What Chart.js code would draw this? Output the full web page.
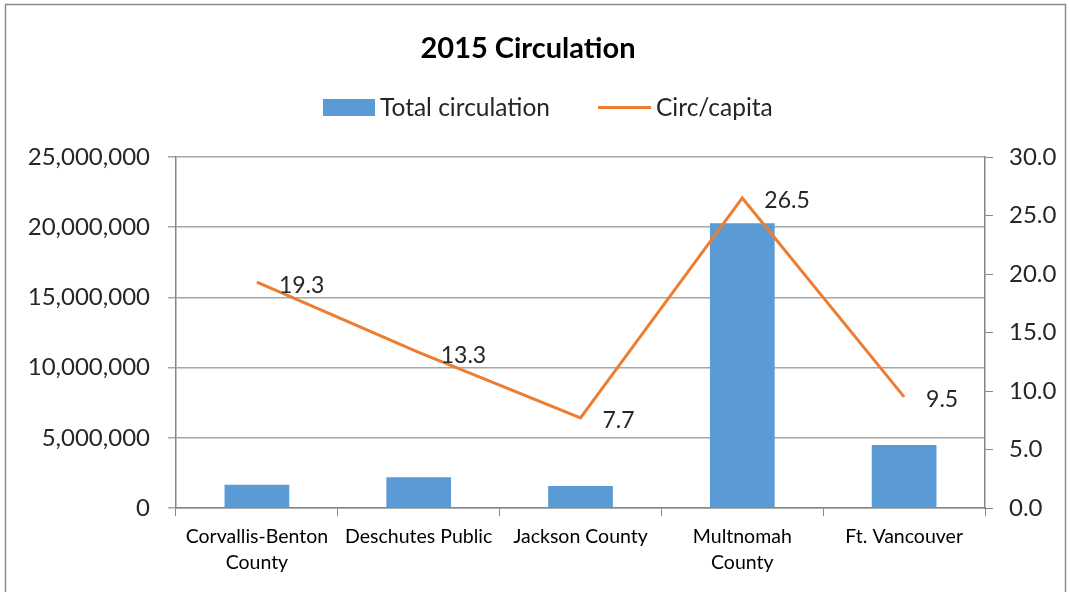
<!DOCTYPE html>
<html><head><meta charset="utf-8">
<script src="https://cdn.jsdelivr.net/npm/chart.js@4.4.1/dist/chart.umd.min.js"></script>
<style>html,body{margin:0;padding:0;background:#fff}#wrap{width:1070px;height:592px;position:relative}</style>
</head><body><div id="wrap"><canvas id="c" width="1070" height="592"></canvas></div>
<script>
const categories = [['Corvallis-Benton','County'], 'Deschutes Public', 'Jackson County', ['Multnomah','County'], 'Ft. Vancouver'];
const totalCirculation = [1660000, 2190000, 1570000, 20280000, 4490000];
const circPerCapita = [19.3, 13.3, 7.7, 26.5, 9.5];
const leftTicks = [0, 5000000, 10000000, 15000000, 20000000, 25000000];
const rightTicks = [0, 5, 10, 15, 20, 25, 30];
const titleText = '2015 Circulation';
const seriesNames = ['Total circulation', 'Circ/capita'];

const FONT = 'Lato, "Open Sans", sans-serif';
const BLUE = '#5B9BD5', ORANGE = '#ED7D31', GRID = '#a6a6a6', AXIS = '#868686', TXT = '#262626';

const decor = {
  id: 'decor',
  beforeDraw(chart) {
    const ctx = chart.ctx;
    ctx.save();
    ctx.fillStyle = '#fff';
    ctx.fillRect(0, 0, chart.width, chart.height);
    ctx.strokeStyle = '#8c8c8c';
    ctx.lineWidth = 1.5;
    ctx.strokeRect(5.5, 4.5, 1060, 620);
    ctx.restore();
  },
  afterDraw(chart) {
    const ctx = chart.ctx;
    ctx.save();
    // title
    ctx.fillStyle = '#000';
    ctx.font = 'bold 29px ' + FONT;
    ctx.textAlign = 'center';
    ctx.textBaseline = 'middle';
    ctx.fillText(titleText, 528, 49);
    // legend
    ctx.font = '24.5px ' + FONT;
    ctx.textAlign = 'left';
    ctx.fillStyle = BLUE;
    ctx.fillRect(323, 99, 52, 17);
    ctx.fillStyle = TXT;
    ctx.fillText(seriesNames[0], 380, 108);
    ctx.strokeStyle = ORANGE;
    ctx.lineWidth = 3;
    ctx.beginPath(); ctx.moveTo(598, 107.5); ctx.lineTo(651, 107.5); ctx.stroke();
    ctx.fillText(seriesNames[1], 656, 108);
    // data labels for line
    const meta = chart.getDatasetMeta(1);
    ctx.font = '23px ' + FONT;
    ctx.fillStyle = TXT;
    meta.data.forEach((pt, i) => {
      ctx.fillText(circPerCapita[i].toFixed(1), pt.x + 22, pt.y + 3);
    });
    ctx.restore();
  }
};

new Chart(document.getElementById('c'), {
  data: {
    labels: categories,
    datasets: [
      { type: 'bar', label: seriesNames[0], data: totalCirculation, backgroundColor: BLUE, yAxisID: 'y', barPercentage: 0.4, categoryPercentage: 1, order: 2 },
      { type: 'line', label: seriesNames[1], data: circPerCapita, borderColor: ORANGE, borderWidth: 3, pointRadius: 0, tension: 0, yAxisID: 'y1', order: 1 }
    ]
  },
  options: {
    responsive: false,
    animation: false,
    layout: { padding: { top: 157, left: 0, right: 0, bottom: 0 } },
    plugins: { legend: { display: false }, title: { display: false }, tooltip: { enabled: false } },
    scales: {
      x: {
        offset: true,
        grid: { offset: true, drawOnChartArea: false, color: AXIS, tickLength: 8 },
        border: { color: AXIS, width: 1.5 },
        ticks: { color: '#000', font: { family: FONT, size: 19.5, lineHeight: 1.33 }, padding: 8, maxRotation: 0, autoSkip: false },
        afterFit(s) { s.height = 84; }
      },
      y: {
        position: 'left', min: 0, max: 25000000,
        afterBuildTicks(s) { s.ticks = leftTicks.map(v => ({ value: v })); },
        grid: { color: GRID, lineWidth: 1.5, tickLength: 8 },
        border: { color: AXIS, width: 1.5 },
        ticks: { color: TXT, font: { family: FONT, size: 24 }, padding: 18, callback: v => v.toLocaleString('en-US') },
        afterFit(s) { s.width = 176; }
      },
      y1: {
        position: 'right', min: 0, max: 30,
        afterBuildTicks(s) { s.ticks = rightTicks.map(v => ({ value: v })); },
        grid: { drawOnChartArea: false, color: AXIS, tickLength: 8 },
        border: { color: AXIS, width: 1.5 },
        ticks: { color: TXT, font: { family: FONT, size: 24 }, padding: 16, callback: v => Number(v).toFixed(1) },
        afterFit(s) { s.width = 85; }
      }
    }
  },
  plugins: [decor]
});
</script></body></html>
